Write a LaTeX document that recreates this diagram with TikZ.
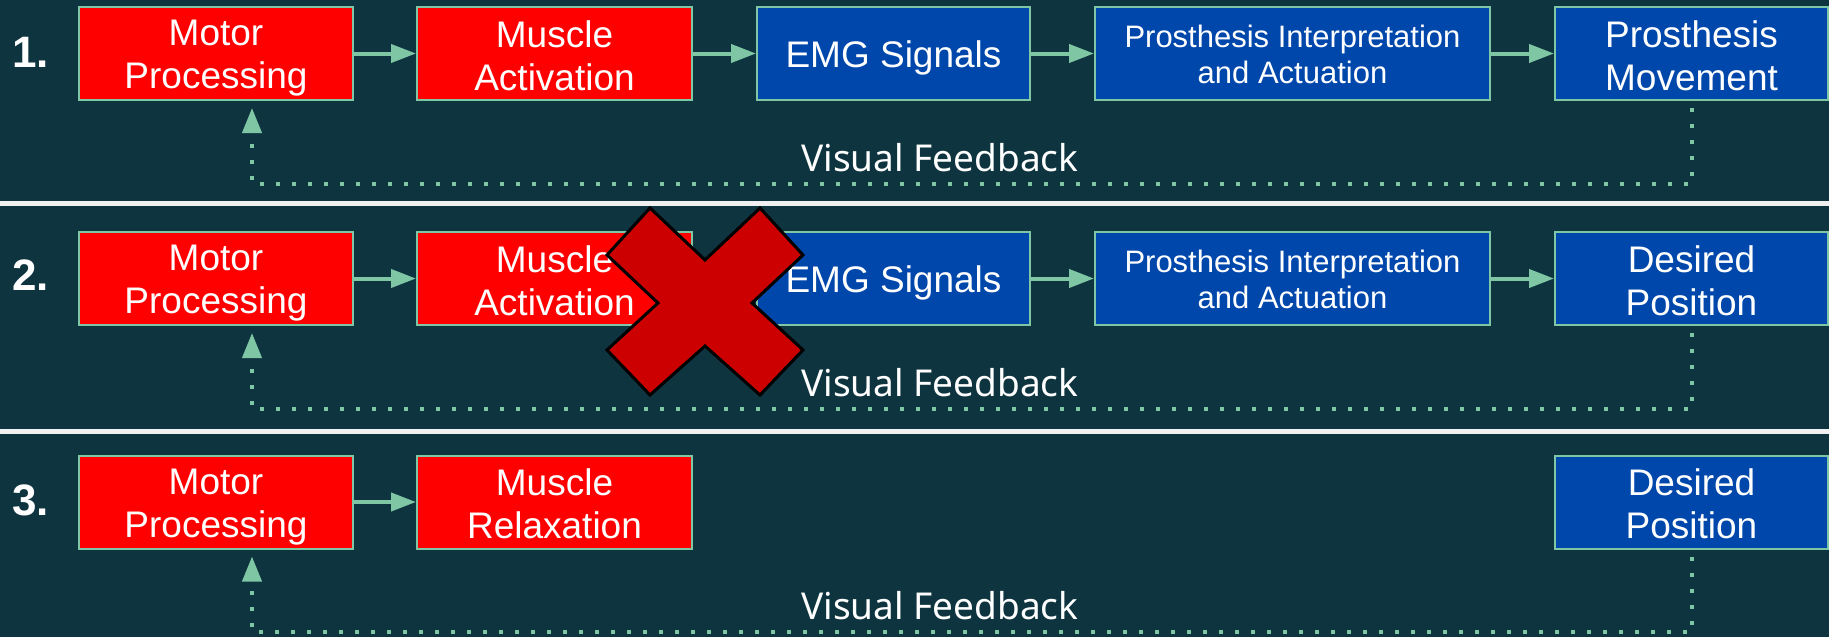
\documentclass[tikz,border=0pt]{standalone}
\usepackage{fontspec}
\setmainfont{Liberation Sans}
\newfontfamily\robo{Noto Sans}
\usetikzlibrary{arrows.meta}
\definecolor{bg}{HTML}{0E3440}
\definecolor{mint}{HTML}{7FC6A4}
\definecolor{boxred}{HTML}{FF0000}
\definecolor{boxblue}{HTML}{0047AB}
\definecolor{xred}{HTML}{CC0000}
\definecolor{sepc}{HTML}{F0F0F0}
\newcommand\bst{\rule[-5pt]{0pt}{40pt}}
\newcommand\sst{\rule[-5pt]{0pt}{33pt}}
\begin{document}
\begin{tikzpicture}[x=1pt,y=-1pt,
  box/.style={draw=mint, line width=2pt, minimum height=93pt, inner sep=0pt, align=center, text=white, font=\fontsize{37}{43}\selectfont},
  redbox/.style={box, fill=boxred},
  bluebox/.style={box, fill=boxblue},
  smalltext/.style={font=\fontsize{31}{36}\selectfont},
  flow/.style={draw=mint, line width=4pt, -{Triangle[length=25pt,width=18pt]}},
  fbarrow/.style={draw=mint, line width=4pt, dash pattern=on 4pt off 12pt, -{Triangle[length=25pt,width=19pt]}},
  fblabel/.style={text=white, font=\robo\fontsize{37}{44}\selectfont, anchor=base, inner sep=0pt},
  num/.style={text=white, font=\bfseries\fontsize{44}{50}\selectfont, anchor=base west, inner sep=0pt},
  sepline/.style={draw=sepc, line width=5pt}
]
\useasboundingbox (0,0) rectangle (1829,637);
\fill[bg] (0,0) rectangle (1829,637);

% separators
\draw[sepline] (0,203) -- (1829,203);
\draw[sepline] (0,431) -- (1829,431);

% ---------- Row 1 ----------
\node[num] (n1) at (12,67) {1.};
\node[redbox, minimum width=274pt] (mp1) at (216,53.5) {Motor\bst\\Processing\bst};
\node[redbox, minimum width=275pt] (ma1) at (554.5,53.5) {Muscle\bst\\Activation\bst};
\node[bluebox, minimum width=273pt] (emg1) at (893.5,53.5) {EMG Signals\bst};
\node[bluebox, smalltext, minimum width=395pt] (pi1) at (1292.5,53.5) {Prosthesis Interpretation\sst\\and Actuation\sst};
\node[bluebox, minimum width=273pt] (pm1) at (1691.5,53.5) {Prosthesis\bst\\Movement\bst};
\draw[flow] (mp1) -- (ma1);
\draw[flow] (ma1) -- (emg1);
\draw[flow] (emg1) -- (pi1);
\draw[flow] (pi1) -- (pm1);
\coordinate (fb1) at (0,184);
\coordinate (l1) at ([xshift=36pt]mp1.south);
\draw[fbarrow] ([yshift=-7pt]pm1.south) -- (pm1.south |- fb1) -- (l1 |- fb1) -- ([yshift=-7pt]l1);
\node[fblabel] (vf1) at (940,171) {Visual Feedback};

% ---------- Row 2 ----------
\node[num] (n2) at (12,290) {2.};
\node[redbox, minimum width=274pt] (mp2) at (216,278.5) {Motor\bst\\Processing\bst};
\node[redbox, minimum width=275pt] (ma2) at (554.5,278.5) {Muscle\bst\\Activation\bst};
\node[bluebox, minimum width=273pt] (emg2) at (893.5,278.5) {EMG Signals\bst};
\node[bluebox, smalltext, minimum width=395pt] (pi2) at (1292.5,278.5) {Prosthesis Interpretation\sst\\and Actuation\sst};
\node[bluebox, minimum width=273pt] (dp2) at (1691.5,278.5) {Desired\bst\\Position\bst};
\draw[flow] (mp2) -- (ma2);
\draw[flow] (ma2) -- (emg2);
\draw[flow] (emg2) -- (pi2);
\draw[flow] (pi2) -- (dp2);
\coordinate (fb2) at (0,409);
\coordinate (l2) at ([xshift=36pt]mp2.south);
\draw[fbarrow] ([yshift=-7pt]dp2.south) -- (dp2.south |- fb2) -- (l2 |- fb2) -- ([yshift=-7pt]l2);
\node[fblabel] (vf2) at (940,396) {Visual Feedback};

% cross
\draw[draw=black, line width=3pt, fill=xred, line join=miter]
  (650,208) -- (705,260) -- (760,208) -- (803,255) -- (752,303) -- (803,350)
  -- (760,395) -- (705,346) -- (650,395) -- (607,350) -- (658,303) -- (607,255) -- cycle;

% ---------- Row 3 ----------
\node[num] (n3) at (12,515) {3.};
\node[redbox, minimum width=274pt] (mp3) at (216,502) {Motor\bst\\Processing\bst};
\node[redbox, minimum width=275pt] (mr3) at (554.5,502) {Muscle\bst\\Relaxation\bst};
\node[bluebox, minimum width=273pt] (dp3) at (1691.5,502) {Desired\bst\\Position\bst};
\draw[flow] (mp3) -- (mr3);
\coordinate (fb3) at (0,632);
\coordinate (l3) at ([xshift=36pt]mp3.south);
\draw[fbarrow] ([yshift=-7pt]dp3.south) -- (dp3.south |- fb3) -- (l3 |- fb3) -- ([yshift=-7pt]l3);
\node[fblabel] (vf3) at (940,619) {Visual Feedback};
\end{tikzpicture}
\end{document}
